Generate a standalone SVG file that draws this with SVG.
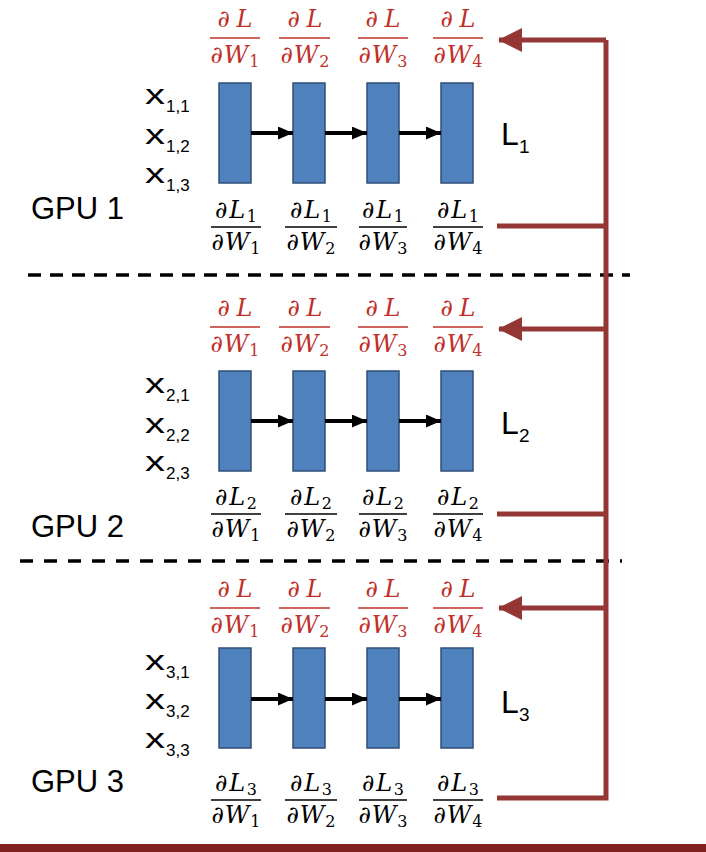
<svg xmlns="http://www.w3.org/2000/svg" width="706" height="852" viewBox="0 0 706 852">
<style>
.layer{fill:#4F81BD;stroke:#2f4f77;stroke-width:1.5}
.fw{stroke:#000;stroke-width:4;fill:none}
.lbl{font-family:"Liberation Sans",Arial,sans-serif;fill:#000}
.m{font-family:"DejaVu Serif",serif;font-style:italic;font-size:24px;text-anchor:middle}
.sub{font-style:normal;font-size:16px}
.red{fill:#C0302A}
.blk{fill:#000}
.rl{stroke:#C0302A;stroke-width:1.4}
.bl{stroke:#000;stroke-width:1.4}
.conn{stroke:#943634;stroke-width:5;fill:none}
.dash{stroke:#000;stroke-width:3.5;stroke-dasharray:13 9}
</style>
<defs>
<marker id="ah" markerWidth="15" markerHeight="13" refX="15" refY="6.5" orient="auto" markerUnits="userSpaceOnUse">
<polygon points="0,0 15,6.5 0,13" fill="#000"/>
</marker>
<marker id="rh" markerWidth="24" markerHeight="24" refX="23" refY="12" orient="auto" markerUnits="userSpaceOnUse">
<polygon points="0,0 24,12 0,24" fill="#943634"/>
</marker>
</defs>

<!-- Section 1 -->
<g id="gpu1">
<text class="lbl" x="31" y="219" font-size="31">GPU 1</text>
<g id="s1-inputs" class="lbl">
<text x="145" y="104" font-size="27" textLength="20" lengthAdjust="spacingAndGlyphs">x</text><text x="166" y="112" font-size="17">1,1</text>
<text x="145" y="144" font-size="27" textLength="20" lengthAdjust="spacingAndGlyphs">x</text><text x="166" y="152" font-size="17">1,2</text>
<text x="145" y="183" font-size="27" textLength="20" lengthAdjust="spacingAndGlyphs">x</text><text x="166" y="191" font-size="17">1,3</text>
</g>
<g id="s1-loss" class="lbl"><text x="501" y="145" font-size="32">L</text><text x="519" y="153" font-size="19">1</text></g>
<g id="s1-l1"><rect class="layer" x="219" y="83" width="32" height="100"/></g>
<g id="s1-l2"><rect class="layer" x="293" y="83" width="32" height="100"/></g>
<g id="s1-l3"><rect class="layer" x="367" y="83" width="32" height="100"/></g>
<g id="s1-l4"><rect class="layer" x="441" y="83" width="32" height="100"/></g>
<g id="s1-red">
<text class="m red" x="235" y="27" textLength="35" lengthAdjust="spacing">∂L</text><line class="rl" x1="210" y1="38" x2="260" y2="38"/><text class="m red" x="235" y="63" textLength="49" lengthAdjust="spacing">∂W<tspan class="sub" dy="4">1</tspan></text>
<text class="m red" x="305" y="27" textLength="35" lengthAdjust="spacing">∂L</text><line class="rl" x1="279" y1="38" x2="330" y2="38"/><text class="m red" x="305" y="63" textLength="49" lengthAdjust="spacing">∂W<tspan class="sub" dy="4">2</tspan></text>
<text class="m red" x="383" y="27" textLength="35" lengthAdjust="spacing">∂L</text><line class="rl" x1="358" y1="38" x2="408" y2="38"/><text class="m red" x="383" y="63" textLength="49" lengthAdjust="spacing">∂W<tspan class="sub" dy="4">3</tspan></text>
<text class="m red" x="458" y="27" textLength="35" lengthAdjust="spacing">∂L</text><line class="rl" x1="433" y1="38" x2="483" y2="38"/><text class="m red" x="458" y="63" textLength="49" lengthAdjust="spacing">∂W<tspan class="sub" dy="4">4</tspan></text>
</g>
<g id="s1-black">
<text class="m blk" x="236" y="218" textLength="42" lengthAdjust="spacing">∂L<tspan class="sub" dy="4">1</tspan></text><line class="bl" x1="211" y1="227" x2="261" y2="227"/><text class="m blk" x="236" y="250" textLength="49" lengthAdjust="spacing">∂W<tspan class="sub" dy="4">1</tspan></text>
<text class="m blk" x="311" y="218" textLength="42" lengthAdjust="spacing">∂L<tspan class="sub" dy="4">1</tspan></text><line class="bl" x1="285" y1="227" x2="337" y2="227"/><text class="m blk" x="311" y="250" textLength="49" lengthAdjust="spacing">∂W<tspan class="sub" dy="4">2</tspan></text>
<text class="m blk" x="383" y="218" textLength="42" lengthAdjust="spacing">∂L<tspan class="sub" dy="4">1</tspan></text><line class="bl" x1="359" y1="227" x2="407" y2="227"/><text class="m blk" x="383" y="250" textLength="49" lengthAdjust="spacing">∂W<tspan class="sub" dy="4">3</tspan></text>
<text class="m blk" x="458" y="218" textLength="42" lengthAdjust="spacing">∂L<tspan class="sub" dy="4">1</tspan></text><line class="bl" x1="433" y1="227" x2="483" y2="227"/><text class="m blk" x="458" y="250" textLength="49" lengthAdjust="spacing">∂W<tspan class="sub" dy="4">4</tspan></text>
</g>
</g>

<!-- Section 2 -->
<g id="gpu2">
<text class="lbl" x="31" y="537" font-size="31">GPU 2</text>
<g id="s2-inputs" class="lbl">
<text x="145" y="393" font-size="27" textLength="20" lengthAdjust="spacingAndGlyphs">x</text><text x="166" y="401" font-size="17">2,1</text>
<text x="145" y="433" font-size="27" textLength="20" lengthAdjust="spacingAndGlyphs">x</text><text x="166" y="441" font-size="17">2,2</text>
<text x="145" y="471" font-size="27" textLength="20" lengthAdjust="spacingAndGlyphs">x</text><text x="166" y="479" font-size="17">2,3</text>
</g>
<g id="s2-loss" class="lbl"><text x="501" y="434" font-size="32">L</text><text x="519" y="442" font-size="19">2</text></g>
<g id="s2-l1"><rect class="layer" x="219" y="371" width="32" height="100"/></g>
<g id="s2-l2"><rect class="layer" x="293" y="371" width="32" height="100"/></g>
<g id="s2-l3"><rect class="layer" x="367" y="371" width="32" height="100"/></g>
<g id="s2-l4"><rect class="layer" x="441" y="371" width="32" height="100"/></g>
<g id="s2-red" transform="translate(0,289)">
<text class="m red" x="235" y="27" textLength="35" lengthAdjust="spacing">∂L</text><line class="rl" x1="210" y1="38" x2="260" y2="38"/><text class="m red" x="235" y="63" textLength="49" lengthAdjust="spacing">∂W<tspan class="sub" dy="4">1</tspan></text>
<text class="m red" x="305" y="27" textLength="35" lengthAdjust="spacing">∂L</text><line class="rl" x1="279" y1="38" x2="330" y2="38"/><text class="m red" x="305" y="63" textLength="49" lengthAdjust="spacing">∂W<tspan class="sub" dy="4">2</tspan></text>
<text class="m red" x="383" y="27" textLength="35" lengthAdjust="spacing">∂L</text><line class="rl" x1="358" y1="38" x2="408" y2="38"/><text class="m red" x="383" y="63" textLength="49" lengthAdjust="spacing">∂W<tspan class="sub" dy="4">3</tspan></text>
<text class="m red" x="458" y="27" textLength="35" lengthAdjust="spacing">∂L</text><line class="rl" x1="433" y1="38" x2="483" y2="38"/><text class="m red" x="458" y="63" textLength="49" lengthAdjust="spacing">∂W<tspan class="sub" dy="4">4</tspan></text>
</g>
<g id="s2-black" transform="translate(0,287)">
<text class="m blk" x="236" y="218" textLength="42" lengthAdjust="spacing">∂L<tspan class="sub" dy="4">2</tspan></text><line class="bl" x1="211" y1="227" x2="261" y2="227"/><text class="m blk" x="236" y="250" textLength="49" lengthAdjust="spacing">∂W<tspan class="sub" dy="4">1</tspan></text>
<text class="m blk" x="311" y="218" textLength="42" lengthAdjust="spacing">∂L<tspan class="sub" dy="4">2</tspan></text><line class="bl" x1="285" y1="227" x2="337" y2="227"/><text class="m blk" x="311" y="250" textLength="49" lengthAdjust="spacing">∂W<tspan class="sub" dy="4">2</tspan></text>
<text class="m blk" x="383" y="218" textLength="42" lengthAdjust="spacing">∂L<tspan class="sub" dy="4">2</tspan></text><line class="bl" x1="359" y1="227" x2="407" y2="227"/><text class="m blk" x="383" y="250" textLength="49" lengthAdjust="spacing">∂W<tspan class="sub" dy="4">3</tspan></text>
<text class="m blk" x="458" y="218" textLength="42" lengthAdjust="spacing">∂L<tspan class="sub" dy="4">2</tspan></text><line class="bl" x1="433" y1="227" x2="483" y2="227"/><text class="m blk" x="458" y="250" textLength="49" lengthAdjust="spacing">∂W<tspan class="sub" dy="4">4</tspan></text>
</g>
</g>

<!-- Section 3 -->
<g id="gpu3">
<text class="lbl" x="31" y="792" font-size="31">GPU 3</text>
<g id="s3-inputs" class="lbl">
<text x="145" y="670" font-size="27" textLength="20" lengthAdjust="spacingAndGlyphs">x</text><text x="166" y="678" font-size="17">3,1</text>
<text x="145" y="709" font-size="27" textLength="20" lengthAdjust="spacingAndGlyphs">x</text><text x="166" y="717" font-size="17">3,2</text>
<text x="145" y="748" font-size="27" textLength="20" lengthAdjust="spacingAndGlyphs">x</text><text x="166" y="756" font-size="17">3,3</text>
</g>
<g id="s3-loss" class="lbl"><text x="501" y="713" font-size="32">L</text><text x="519" y="721" font-size="19">3</text></g>
<g id="s3-l1"><rect class="layer" x="219" y="648" width="32" height="100"/></g>
<g id="s3-l2"><rect class="layer" x="293" y="648" width="32" height="100"/></g>
<g id="s3-l3"><rect class="layer" x="367" y="648" width="32" height="100"/></g>
<g id="s3-l4"><rect class="layer" x="441" y="648" width="32" height="100"/></g>
<g id="s3-red" transform="translate(0,570)">
<text class="m red" x="235" y="27" textLength="35" lengthAdjust="spacing">∂L</text><line class="rl" x1="210" y1="38" x2="260" y2="38"/><text class="m red" x="235" y="63" textLength="49" lengthAdjust="spacing">∂W<tspan class="sub" dy="4">1</tspan></text>
<text class="m red" x="305" y="27" textLength="35" lengthAdjust="spacing">∂L</text><line class="rl" x1="279" y1="38" x2="330" y2="38"/><text class="m red" x="305" y="63" textLength="49" lengthAdjust="spacing">∂W<tspan class="sub" dy="4">2</tspan></text>
<text class="m red" x="383" y="27" textLength="35" lengthAdjust="spacing">∂L</text><line class="rl" x1="358" y1="38" x2="408" y2="38"/><text class="m red" x="383" y="63" textLength="49" lengthAdjust="spacing">∂W<tspan class="sub" dy="4">3</tspan></text>
<text class="m red" x="458" y="27" textLength="35" lengthAdjust="spacing">∂L</text><line class="rl" x1="433" y1="38" x2="483" y2="38"/><text class="m red" x="458" y="63" textLength="49" lengthAdjust="spacing">∂W<tspan class="sub" dy="4">4</tspan></text>
</g>
<g id="s3-black" transform="translate(0,573)">
<text class="m blk" x="236" y="218" textLength="42" lengthAdjust="spacing">∂L<tspan class="sub" dy="4">3</tspan></text><line class="bl" x1="211" y1="227" x2="261" y2="227"/><text class="m blk" x="236" y="250" textLength="49" lengthAdjust="spacing">∂W<tspan class="sub" dy="4">1</tspan></text>
<text class="m blk" x="311" y="218" textLength="42" lengthAdjust="spacing">∂L<tspan class="sub" dy="4">3</tspan></text><line class="bl" x1="285" y1="227" x2="337" y2="227"/><text class="m blk" x="311" y="250" textLength="49" lengthAdjust="spacing">∂W<tspan class="sub" dy="4">2</tspan></text>
<text class="m blk" x="383" y="218" textLength="42" lengthAdjust="spacing">∂L<tspan class="sub" dy="4">3</tspan></text><line class="bl" x1="359" y1="227" x2="407" y2="227"/><text class="m blk" x="383" y="250" textLength="49" lengthAdjust="spacing">∂W<tspan class="sub" dy="4">3</tspan></text>
<text class="m blk" x="458" y="218" textLength="42" lengthAdjust="spacing">∂L<tspan class="sub" dy="4">3</tspan></text><line class="bl" x1="433" y1="227" x2="483" y2="227"/><text class="m blk" x="458" y="250" textLength="49" lengthAdjust="spacing">∂W<tspan class="sub" dy="4">4</tspan></text>
</g>
</g>

<!-- Separators -->
<g id="separators">
<line class="dash" x1="28" y1="275" x2="630" y2="275"/>
<line class="dash" x1="20" y1="561" x2="622" y2="561" style="stroke-dasharray:13 11"/>
<rect x="0" y="844" width="706" height="8" fill="#80201f"/>
</g>

<!-- Connectors -->
<g id="connectors">
<line class="fw" x1="251" y1="133" x2="293" y2="133" marker-end="url(#ah)"/>
<line class="fw" x1="325" y1="133" x2="367" y2="133" marker-end="url(#ah)"/>
<line class="fw" x1="399" y1="133" x2="441" y2="133" marker-end="url(#ah)"/>
<line class="fw" x1="251" y1="421" x2="293" y2="421" marker-end="url(#ah)"/>
<line class="fw" x1="325" y1="421" x2="367" y2="421" marker-end="url(#ah)"/>
<line class="fw" x1="399" y1="421" x2="441" y2="421" marker-end="url(#ah)"/>
<line class="fw" x1="251" y1="699" x2="293" y2="699" marker-end="url(#ah)"/>
<line class="fw" x1="325" y1="699" x2="367" y2="699" marker-end="url(#ah)"/>
<line class="fw" x1="399" y1="699" x2="441" y2="699" marker-end="url(#ah)"/>
<polyline class="conn" points="497,226 606,226"/>
<polyline class="conn" points="497,514 606,514"/>
<polyline class="conn" points="497,798 606,798 606,40"/>
<polyline class="conn" points="606,40 499,40" marker-end="url(#rh)"/>
<polyline class="conn" points="606,329 499,329" marker-end="url(#rh)"/>
<polyline class="conn" points="606,608 499,608" marker-end="url(#rh)"/>
</g>
</svg>
